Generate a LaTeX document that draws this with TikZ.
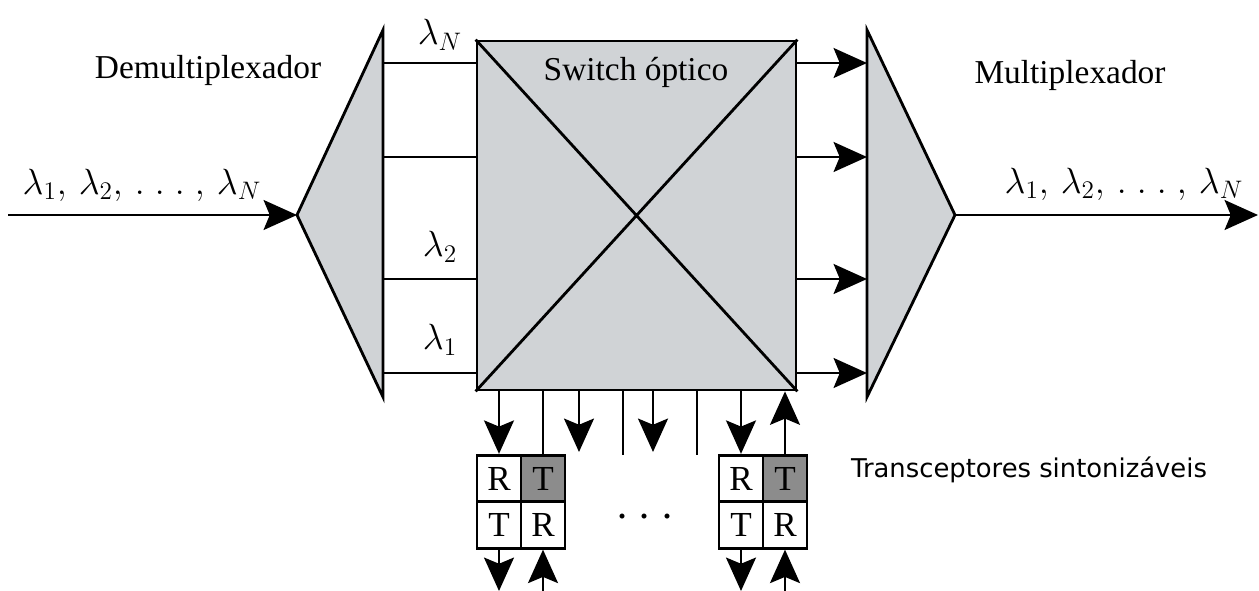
\documentclass[tikz,border=0pt]{standalone}
\usepackage{fontspec}
\setmainfont{Liberation Serif}
\newfontfamily\dejavu{DejaVu Sans}
\usetikzlibrary{arrows.meta}
\definecolor{swgray}{RGB}{208,211,214}
\definecolor{txgray}{RGB}{140,140,140}

\begin{document}
\begin{tikzpicture}[x=0.02cm, y=-0.02cm, line width=1.6pt,
        >={Stealth[length=19pt,width=17pt,inset=3.5pt]},
        cell/.style={draw, minimum width=0.88cm, minimum height=0.93cm, inner sep=0pt, font=\fontsize{20}{24}\selectfont},
        lbl/.style={font=\fontsize{19}{23}\selectfont},
        lam/.style={font=\fontsize{22}{26}\selectfont}]
    \useasboundingbox (0,0) rectangle (1259,591);
    % demux and mux
    \filldraw[fill=swgray] (297,215) coordinate (dmx) -- (383,30) coordinate (dmxT) -- (383,397) coordinate (dmxB) -- cycle;
    \filldraw[fill=swgray] (867,30) coordinate (mxT) -- (955,215) coordinate (mx) -- (867,397) coordinate (mxB) -- cycle;
    \node[lbl] (dml) at (208,70) {Demultiplexador};
    \node[lbl] (mxl) at (1070,75) {Multiplexador};
    % switch
    \node[draw, fill=swgray, minimum width=6.38cm, minimum height=6.98cm, inner sep=0pt] (sw) at (636.5,215.5) {};
    \draw (sw.north west) -- (sw.south east) (sw.south west) -- (sw.north east);
    \node[lbl] (swt) at (636,72) {Switch óptico};
    % input and output
    \coordinate (in) at (8,215);
    \coordinate (out) at (1258,215);
    \draw[->] (in) -- (dmx);
    \draw[->] (mx) -- (out);
    \node[lam] (inl) at (142,185) {$\lambda_1,\, \lambda_2,\, .\;.\;.\;,\, \lambda_N$};
    \node[lam] (outl) at (1124,184) {$\lambda_1,\, \lambda_2,\, .\;.\;.\;,\, \lambda_N$};
    % channels
    \foreach \y in {63,157,279,373} {
        \draw (dmxT |- 0,\y) -- (sw.west |- 0,\y);
        \draw[->] (sw.east |- 0,\y) -- (mxT |- 0,\y);
    }
    \node[lam] (lN) at (440,35) {$\lambda_N$};
    \node[lam] (l2) at (440,247) {$\lambda_2$};
    \node[lam] (l1) at (440,340) {$\lambda_1$};
    % transceivers
    \foreach \i/\x in {1/499, 2/741} {
        \node[cell] (a\i) at (\x,478.5) {R};
        \node[cell, fill=txgray] (b\i) at ({\x+44},478.5) {T};
        \node[cell] (c\i) at (\x,525) {T};
        \node[cell] (d\i) at ({\x+44},525) {R};
        \draw[->] (sw.south -| a\i) -- (a\i.north);
        \draw[->] (c\i.south) -- (c\i.south |- 0,591);
        \draw[->] (d\i.south |- 0,591) -- (d\i.south);
    }
    \draw (b1.north) -- (sw.south -| b1);
    \draw[->] (b2.north) -- (sw.south -| b2);
    \foreach \x in {579,653} \draw[->] (sw.south -| \x,0) -- (\x,452);
    \foreach \x in {623,697} \draw (sw.south -| \x,0) -- (\x,455);
    \node[font=\fontsize{24}{28}\selectfont] (dots) at (645,522) {·\hspace{5pt}·\hspace{5pt}·};
    \node[font=\dejavu\fontsize{14.7}{17}\selectfont] (trx) at (1029,470) {Transceptores sintonizáveis};
\end{tikzpicture}
\end{document}
